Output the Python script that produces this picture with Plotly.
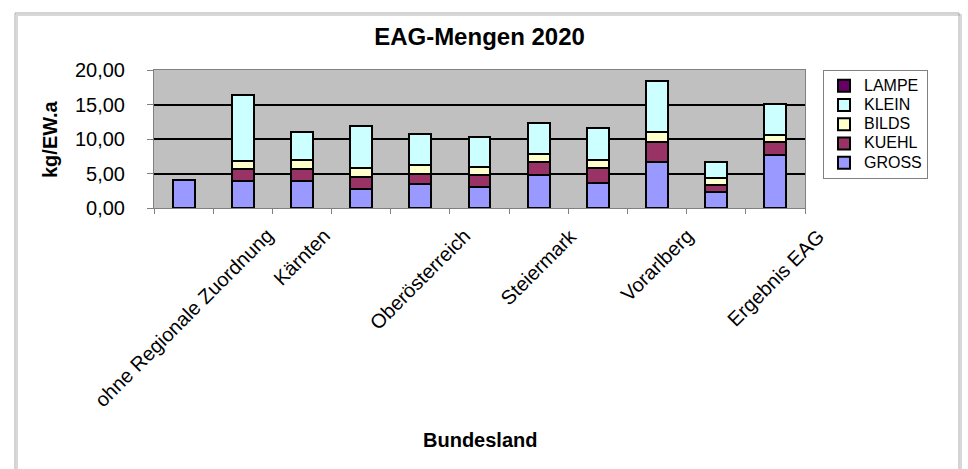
import plotly.graph_objects as go

categories = ["ohne Regionale Zuordnung", "Burgenland", "Kärnten", "Niederösterreich",
              "Oberösterreich", "Salzburg", "Steiermark", "Tirol", "Vorarlberg", "Wien",
              "Ergebnis EAG"]
shown_labels = ["ohne Regionale Zuordnung", "Kärnten", "Oberösterreich",
                "Steiermark", "Vorarlberg", "Ergebnis EAG"]

GROSS = [4.1, 3.9, 3.9, 2.8, 3.55, 3.05, 4.85, 3.65, 6.7, 2.25, 7.7]
KUEHL = [0.0, 1.75, 1.8, 1.75, 1.45, 1.8, 1.85, 2.15, 2.8, 1.15, 1.8]
BILDS = [0.0, 1.2, 1.2, 1.2, 1.2, 1.1, 1.15, 1.15, 1.5, 1.0, 1.1]
KLEIN = [0.0, 9.5, 4.1, 6.15, 4.5, 4.35, 4.4, 4.65, 7.35, 2.25, 4.45]
LAMPE = [0.0, 0.05, 0.05, 0.05, 0.05, 0.05, 0.05, 0.05, 0.05, 0.05, 0.05]

y_ticks = [0, 5, 10, 15, 20]

series = [("GROSS", GROSS, "#9999FF"), ("KUEHL", KUEHL, "#993366"),
          ("BILDS", BILDS, "#FFFFCC"), ("KLEIN", KLEIN, "#CCFFFF"),
          ("LAMPE", LAMPE, "#660066")]

FONT = "Arial, Liberation Sans, sans-serif"

fig = go.Figure()
for name, vals, col in series:
    fig.add_trace(go.Bar(
        x=categories, y=vals,
        name='<span style="font-size:16px">' + name + '</span>',
        marker=dict(color=col, line=dict(color="black", width=2)),
    ))

W, H = 968, 469
L, R, T, B = 154, 163, 70, 261
pw = W - L - R
ph = H - T - B

def px_x(x):
    return (x - L) / pw

def px_y(y):
    return (H - B - y) / ph

annotations = []
for lab in shown_labels:
    annotations.append(dict(
        x=lab, xref="x", y=0, yref="paper", yshift=-14,
        text=lab, showarrow=False, textangle=-45,
        xanchor="center", yanchor="top",
        font=dict(family=FONT, size=20, color="black"),
    ))
annotations.append(dict(
    x=0.5, xref="paper", y=px_y(440), yref="paper",
    text="<b>Bundesland</b>", showarrow=False,
    xanchor="center", yanchor="middle",
    font=dict(family=FONT, size=20, color="black"),
))
annotations.append(dict(
    x=px_x(50), xref="paper", y=0.5, yref="paper",
    text="<b>kg/EW.a</b>", showarrow=False, textangle=-90,
    xanchor="center", yanchor="middle",
    font=dict(family=FONT, size=20, color="black"),
))

shapes = [
    dict(type="rect", xref="paper", yref="paper",
         x0=px_x(17), x1=px_x(961), y0=px_y(490), y1=px_y(15),
         line=dict(color="#d8d8d8", width=2), layer="below"),
    dict(type="rect", xref="paper", yref="paper",
         x0=px_x(15), x1=px_x(959), y0=px_y(490), y1=px_y(13),
         line=dict(color="#a8a8a8", width=1), layer="below"),
]

fig.update_layout(
    width=W, height=H,
    margin=dict(l=L, r=R, t=T, b=B),
    barmode="stack", bargap=0.63,
    separators=",.",
    paper_bgcolor="white", plot_bgcolor="#C0C0C0",
    font=dict(family=FONT, color="black"),
    title=dict(text="<b>EAG-Mengen 2020</b>", x=0.5, xref="paper", xanchor="center",
               y=1 - 37 / H, yref="container", yanchor="middle",
               font=dict(family=FONT, size=24, color="black")),
    legend=dict(x=px_x(823), y=1.0, xref="paper", yref="paper",
                xanchor="left", yanchor="top",
                bgcolor="white", bordercolor="#808080", borderwidth=1,
                traceorder="reversed",
                font=dict(family=FONT, size=12.5, color="black")),
    annotations=annotations,
    shapes=shapes,
    showlegend=True,
)

fig.update_xaxes(
    type="category", categoryorder="array", categoryarray=categories,
    range=[-0.5, len(categories) - 0.5], autorange=False,
    tickson="boundaries", showticklabels=False,
    ticks="outside", ticklen=5, tickcolor="#808080", tickwidth=1,
    showline=True, linecolor="#808080", linewidth=1, mirror=True,
    showgrid=False, fixedrange=True,
)
fig.update_yaxes(
    range=[0, 20], autorange=False, tickvals=y_ticks, tickformat=".2f",
    ticks="outside", ticklen=6, tickcolor="#808080", tickwidth=1,
    ticklabelstandoff=18,
    tickfont=dict(family=FONT, size=20, color="black"),
    showline=True, linecolor="#808080", linewidth=1, mirror=True,
    showgrid=True, gridcolor="black", gridwidth=1.5,
    zeroline=False, fixedrange=True,
)

fig.write_html("out.html")
